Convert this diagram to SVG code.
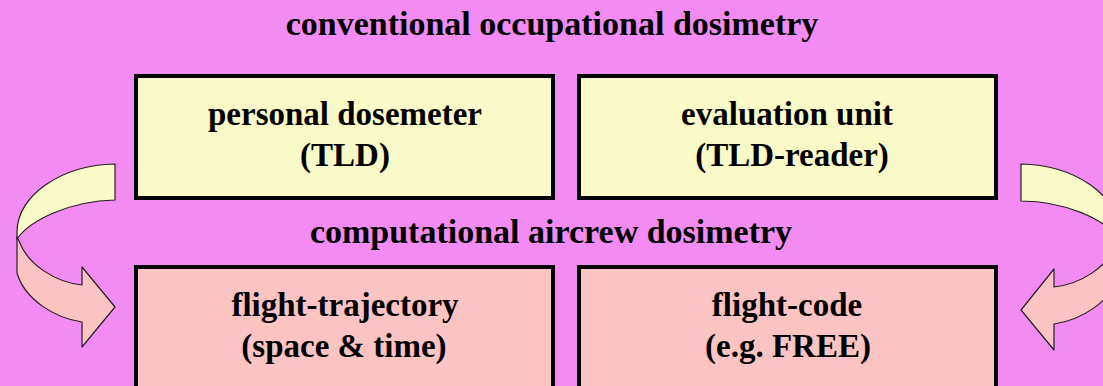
<svg xmlns="http://www.w3.org/2000/svg" width="1103" height="386" viewBox="0 0 1103 386">
  <style>
    .t { font-family: "Liberation Serif", "Times New Roman", serif; font-weight: bold; font-size: 33px; fill: #000; text-anchor: middle; }
    .h { font-size: 34px; }
    .box { stroke: #000; stroke-width: 4; }
    .yel { fill: #FAF9C8; }
    .pnk { fill: #FCC3C3; }
    .arr { stroke: #222; stroke-width: 1.2; stroke-linejoin: round; }
  </style>
  <rect x="0" y="0" width="1103" height="386" fill="#F28CF2"/>
  <text class="t h" x="552" y="35">conventional occupational dosimetry</text>
  <text class="t h" x="551" y="243">computational aircrew dosimetry</text>

  <g id="connectors">
    <g id="arrow-left">
      <path class="arr yel" d="M115,164 C62,165 17,195 17,232 L17,239 C30,220 70,201 115,200 Z"/>
      <path class="arr pnk" d="M17,237 L17,273 C25,300 55,318 82,322 L82,347 L115,307 L82,267 L82,285 C55,282 28,265 19,241 Z"/>
    </g>
    <g id="arrow-right">
      <path class="arr yel" d="M1021,164 C1074,165 1119,195 1119,232 L1119,239 C1106,220 1066,201 1021,201 Z"/>
      <path class="arr pnk" d="M1119,239 L1119,275 C1111,302 1081,320 1054,324 L1054,350 L1021,310 L1054,269 L1054,287 C1081,284 1108,267 1117,243 Z"/>
    </g>
  </g>

  <g id="personal-dosemeter">
    <rect class="box yel" x="136" y="76" width="417" height="122"/>
    <text class="t" x="345" y="125">personal dosemeter</text>
    <text class="t" x="345" y="166">(TLD)</text>
  </g>
  <g id="evaluation-unit">
    <rect class="box yel" x="579" y="76" width="417" height="122"/>
    <text class="t" x="787" y="125">evaluation unit</text>
    <text class="t" x="792" y="166">(TLD-reader)</text>
  </g>
  <g id="flight-trajectory">
    <rect class="box pnk" x="136" y="267" width="417" height="140"/>
    <text class="t" x="345" y="316">flight-trajectory</text>
    <text class="t" x="344" y="357">(space &amp; time)</text>
  </g>
  <g id="flight-code">
    <rect class="box pnk" x="579" y="267" width="417" height="140"/>
    <text class="t" x="787" y="316">flight-code</text>
    <text class="t" x="788" y="357">(e.g. FREE)</text>
  </g>
</svg>
